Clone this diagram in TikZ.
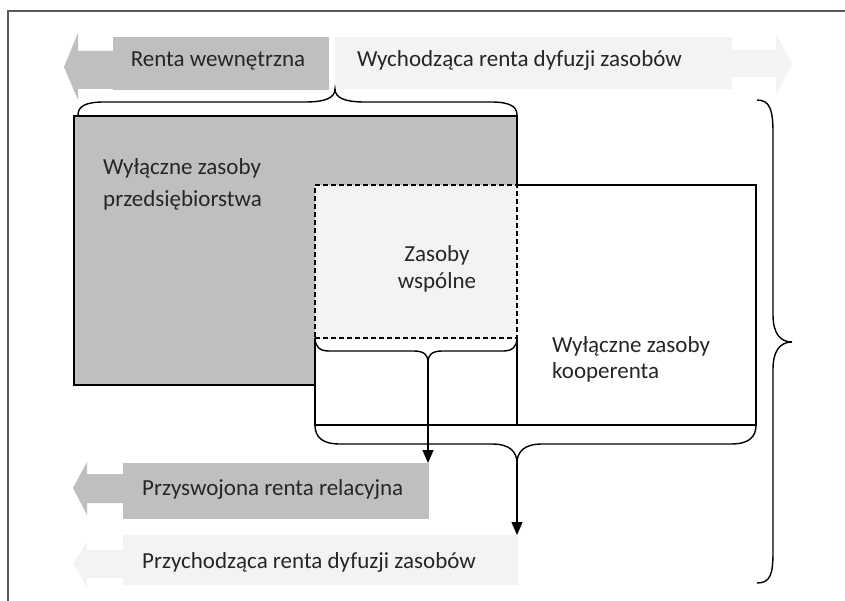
\documentclass[tikz,border=0pt]{standalone}
\usepackage{fontspec}
\setmainfont{Carlito}
\usetikzlibrary{arrows.meta}
\definecolor{dgray}{HTML}{BFBFBF}
\definecolor{lgray}{HTML}{F2F3F5}
\definecolor{txt}{HTML}{262626}
\definecolor{framecol}{HTML}{595959}
\begin{document}
\begin{tikzpicture}[x=1pt,y=-1pt,
  lab/.style={font=\fontsize{23}{27}\selectfont, text=txt, inner sep=0pt, align=left},
  flat/.style={inner sep=0pt, outer sep=0pt, anchor=north west},
  outl/.style={draw=black, line width=1.4pt},
  brc/.style={draw=black, line width=1.4pt},
  arr/.style={draw=black, line width=1.4pt, -{Triangle[width=11pt,length=13pt]}}]
\useasboundingbox (0,0) rectangle (845,601);
% frame
\draw[framecol, line width=1.2pt] (8,601) -- (8,11) -- (845,11);

% top arrows
\fill[dgray] (64,67) -- (78,33) -- (78,51) -- (114,51) -- (114,89) -- (78,89) -- (78,100) -- cycle;
\node[flat, fill=dgray, minimum width=216pt, minimum height=53pt] (rw) at (113,37) {};
\node[lab, anchor=base] at (218,67) {Renta wewnętrzna};
\fill[lgray] (731,50) -- (776,50) -- (776,34) -- (792,64) -- (776,95) -- (776,77) -- (731,77) -- cycle;
\node[flat, fill=lgray, minimum width=397pt, minimum height=52pt] (wr) at (335,37) {};
\node[lab, anchor=base west] at (357,67) {Wychodząca renta dyfuzji zasobów};

% main boxes
\node[flat, fill=dgray, outl, minimum width=443pt, minimum height=269pt] (ent) at (74,116) {};
\node[flat, fill=white, minimum width=441pt, minimum height=240pt] (coop) at (315,185) {};
\draw[outl] (315,338) -- (coop.south west) -- (coop.south east) -- (coop.north east) -- (517,185);
\node[flat, fill=lgray, draw=black, line width=1.4pt, dash pattern=on 5pt off 3pt,
      minimum width=202pt, minimum height=153pt] (shared) at (315,185) {};
\draw[outl] (shared.south east) -- (shared.south east |- coop.south);

\node[lab, anchor=base west, font=\fontsize{23}{32}\selectfont] at (103,207) {Wyłączne zasoby\\przedsiębiorstwa};
\node[lab, anchor=base, align=center, font=\fontsize{23}{26}\selectfont] at (437,288) {Zasoby\\wspólne};
\node[lab, anchor=base west, font=\fontsize{23}{26}\selectfont] at (552,378) {Wyłączne zasoby\\kooperenta};

% braces
\draw[brc] (78,115) .. controls (78,106) and (86,102) .. (104,102) -- (305,102)
  .. controls (325,102) and (335,98) .. (335,89)
  .. controls (335,98) and (345,102) .. (365,102) -- (491,102)
  .. controls (509,102) and (517,106) .. (517,115);
\draw[brc] (757,100) .. controls (770,100) and (773,110) .. (773,133) -- (773,315)
  .. controls (773,333) and (780,342) .. (792,342)
  .. controls (780,342) and (773,351) .. (773,369) -- (773,552)
  .. controls (773,575) and (770,583) .. (757,583);
\coordinate (sb) at (428,362);
\draw[brc] (315,338) .. controls (315,346) and (319,351) .. (329,351) -- (414,351)
  .. controls (424,351) and (428,355) .. (sb)
  .. controls (428,355) and (432,351) .. (442,351) -- (503,351)
  .. controls (513,351) and (517,346) .. (517,338);
\coordinate (bb) at (517,463);
\draw[brc] (315,425) .. controls (315,437) and (322,444) .. (340,444) -- (492,444)
  .. controls (510,444) and (517,452) .. (bb)
  .. controls (517,452) and (524,444) .. (542,444) -- (731,444)
  .. controls (749,444) and (756,437) .. (756,425);

% bottom arrows
\fill[dgray] (73,488) -- (87,462) -- (87,474) -- (124,474) -- (124,503) -- (87,503) -- (87,515) -- cycle;
\node[flat, fill=dgray, minimum width=306pt, minimum height=56pt] (prz) at (123,463) {};
\node[lab, anchor=base west] at (142,495) {Przyswojona renta relacyjna};
\fill[lgray] (73,563) -- (87,542) -- (87,550) -- (124,550) -- (124,578) -- (87,578) -- (87,587) -- cycle;
\node[flat, fill=lgray, minimum width=395pt, minimum height=50pt] (prd) at (123,535) {};
\node[lab, anchor=base west] at (142,568) {Przychodząca renta dyfuzji zasobów};

% connectors
\draw[arr] (sb) -- (sb |- prz.north);
\draw[arr] (bb) -- (bb |- prd.north);
\end{tikzpicture}
\end{document}
